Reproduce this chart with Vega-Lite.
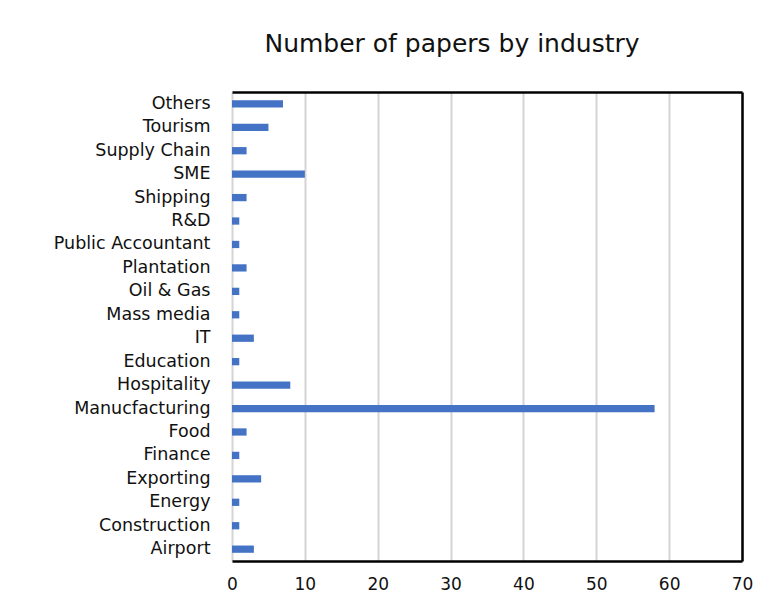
{
  "$schema": "https://vega.github.io/schema/vega-lite/v6.json",
  "width": 510,
  "height": 469,
  "autosize": {"type": "none"},
  "padding": {"left": 232, "top": 92, "right": 39, "bottom": 44},
  "background": "white",
  "title": {
    "text": "Number of papers by industry",
    "font": "DejaVu Sans",
    "fontSize": 25,
    "fontWeight": "normal",
    "color": "#111",
    "anchor": "middle",
    "offset": 35,
    "dx": -35
  },
  "data": {
    "values": [
      {"industry": "Others", "papers": 7},
      {"industry": "Tourism", "papers": 5},
      {"industry": "Supply Chain", "papers": 2},
      {"industry": "SME", "papers": 10},
      {"industry": "Shipping", "papers": 2},
      {"industry": "R&D", "papers": 1},
      {"industry": "Public Accountant", "papers": 1},
      {"industry": "Plantation", "papers": 2},
      {"industry": "Oil & Gas", "papers": 1},
      {"industry": "Mass media", "papers": 1},
      {"industry": "IT", "papers": 3},
      {"industry": "Education", "papers": 1},
      {"industry": "Hospitality", "papers": 8},
      {"industry": "Manucfacturing", "papers": 58},
      {"industry": "Food", "papers": 2},
      {"industry": "Finance", "papers": 1},
      {"industry": "Exporting", "papers": 4},
      {"industry": "Energy", "papers": 1},
      {"industry": "Construction", "papers": 1},
      {"industry": "Airport", "papers": 3}
    ]
  },
  "layer": [
    {
      "mark": {"type": "bar", "color": "#4472C4"},
      "encoding": {
        "y": {
          "field": "industry",
          "type": "nominal",
          "sort": null,
          "scale": {"paddingInner": 0.69, "paddingOuter": 0.35},
          "axis": {
            "title": null,
            "domain": false,
            "ticks": false,
            "grid": false,
            "labelFont": "DejaVu Sans",
            "labelFontSize": 17.5,
            "labelColor": "#111",
            "labelPadding": 22
          }
        },
        "x": {
          "field": "papers",
          "type": "quantitative",
          "scale": {"domain": [0, 70], "nice": false},
          "axis": {
            "title": null,
            "values": [0, 10, 20, 30, 40, 50, 60, 70],
            "ticks": false,
            "domain": true,
            "domainColor": "#000",
            "domainWidth": 2.5,
            "grid": true,
            "gridColor": "#d4d4d4",
            "gridWidth": 2,
            "labelFlush": false,
            "labelFont": "DejaVu Sans",
            "labelFontSize": 17,
            "labelColor": "#111",
            "labelPadding": 15
          }
        }
      }
    },
    {
      "mark": {"type": "bar", "opacity": 0},
      "encoding": {
        "y": {
          "field": "industry",
          "type": "nominal",
          "sort": null,
          "axis": {"orient": "right", "title": null, "labels": false, "ticks": false, "grid": false, "domain": true, "domainColor": "#000", "domainWidth": 2.5}
        },
        "x": {
          "field": "papers",
          "type": "quantitative",
          "axis": {"orient": "top", "title": null, "labels": false, "ticks": false, "grid": false, "domain": true, "domainColor": "#000", "domainWidth": 2.5}
        }
      }
    }
  ],
  "resolve": {"axis": {"x": "independent", "y": "independent"}},
  "config": {"view": {"stroke": null}}
}
